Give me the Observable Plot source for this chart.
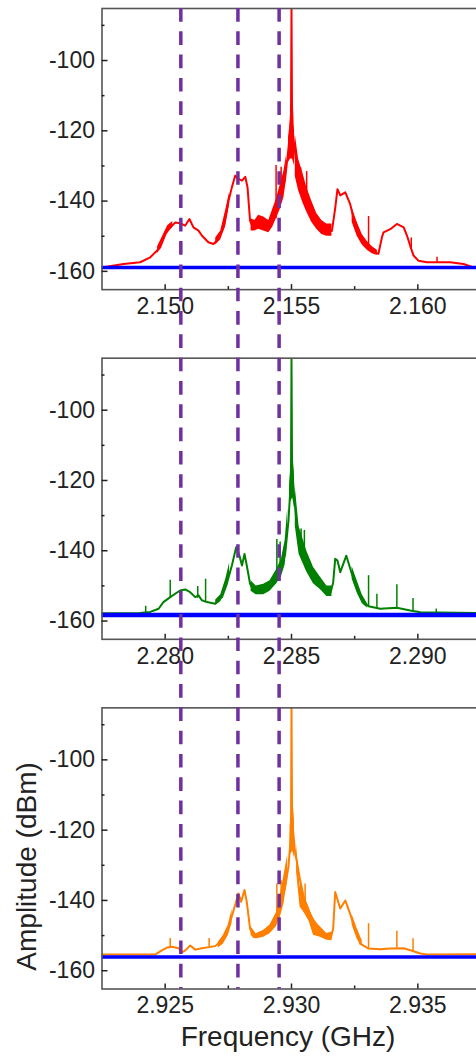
<!DOCTYPE html>
<html>
<head>
<meta charset="utf-8">
<script src="https://cdn.jsdelivr.net/npm/d3@7"></script>
<script src="https://cdn.jsdelivr.net/npm/@observablehq/plot@0.6"></script>
<style>
  html, body { margin: 0; padding: 0; background: #fff; overflow: hidden; }
  #chart { width: 476px; height: 1057px; overflow: hidden; }
</style>
</head>
<body>
<div id="chart"></div>
<script>
// Three spectra, each centred on its pump carrier (GHz).
const panels = ["p2155", "p2285", "p2930"];
const carriersGHz = [2.155, 2.285, 2.930];
const traceColors = ["#ff0000", "#008000", "#ff7f00"];
const noiseColor = "#0000ff";
const noiseWidths = [3.5, 4.5, 3.5];
const guideColor = "#7030a0";

// Axis ticks and labels
const yMajorTicks = [-100, -120, -140, -160];
const yTickLabels = ["-100", "-120", "-140", "-160"];
const yMinorTicks = [-90, -110, -130, -150];
const xTickLabels = [
  ["2.150", "2.155", "2.160"],
  ["2.280", "2.285", "2.290"],
  ["2.925", "2.930", "2.935"]
];
const xMinorOffsetsMHz = [-2.5, 2.5];
const xSpanMHz = [-7.5, 7.5];
const yDomain = [-165.2, -85.2];

// Dashed guide lines: detuning from the carrier (MHz), shared by all panels
const guideOffsetsMHz = [-4.38, -2.12, -0.49];

// Noise floor (blue) level of each panel, dBm
const noiseFloor = [-158.9, -158.3, -156.1];

// Red spectrum around 2.155 GHz: [GHz, dBm]
const redTrace = [
  [2.14750,-158.9],[2.14835,-157.9],[2.14901,-157.4],[2.14941,-156.0],[2.14980,-153.2],
  [2.15000,-149.4],[2.15020,-147.5],[2.15040,-146.1],[2.15059,-146.3],[2.15079,-147.0],
  [2.15096,-145.1],[2.15112,-147.5],[2.15132,-148.4],[2.15145,-149.8],[2.15171,-151.7],
  [2.15191,-152.2],[2.15211,-150.8],[2.15231,-147.5],[2.15251,-139.9],[2.15264,-136.1],
  [2.15277,-132.8],[2.15290,-133.7],[2.15304,-134.2],[2.15317,-133.1],[2.15326,-136.1],
  [2.15336,-145.6],[2.15350,-147.9],[2.15369,-144.6],[2.15389,-146.3],[2.15409,-147.3],
  [2.15422,-146.1],[2.15435,-143.7],[2.15449,-140.5],[2.15462,-137.5],[2.15475,-133.5],
  [2.15485,-127.0],[2.15494,-121.0],[2.15498,-115.0],[2.15500,-85.2],[2.15502,-113.0],
  [2.15506,-121.0],[2.15512,-125.0],[2.15520,-129.5],[2.15528,-132.3],[2.15541,-136.5],
  [2.15561,-140.5],[2.15587,-144.5],[2.15614,-147.0],[2.15640,-148.5],[2.15660,-148.5],
  [2.15673,-142.0],[2.15682,-136.6],[2.15693,-138.4],[2.15713,-137.5],[2.15732,-140.8],
  [2.15745,-144.6],[2.15765,-148.4],[2.15785,-151.7],[2.15812,-154.1],[2.15844,-155.0],
  [2.15858,-150.3],[2.15864,-148.9],[2.15891,-148.0],[2.15917,-146.5],[2.15944,-147.5],
  [2.15957,-149.8],[2.15970,-152.8],[2.15983,-155.5],[2.16003,-157.0],[2.16036,-157.4],
  [2.16128,-157.4],[2.16181,-157.9],[2.16221,-158.9],[2.16250,-159.0]
];
// Noisy stretches of the red trace: segments of [GHz, low dBm, high dBm]
const redBands = [
  [[2.14970,-155,-153],[2.14990,-152.5,-150],[2.15010,-149,-147],[2.15030,-147.5,-145.8]],
  [[2.15200,-152.5,-150.5],[2.15220,-151,-148.5],[2.15240,-147,-142.5],[2.15255,-141,-137.5]],
  [[2.15340,-148.5,-145],[2.15355,-148.5,-145.5],[2.15370,-148,-144],[2.15390,-148.5,-144.5],
   [2.15410,-149,-145.5],[2.15425,-147.5,-142.5],[2.15440,-145,-139.5],[2.15455,-142.5,-135.5],
   [2.15470,-139,-131.5],[2.15480,-134,-127]],
  [[2.15488,-129,-122],[2.15496,-128,-117],[2.15504,-128,-117],[2.15512,-130,-120]],
  [[2.15515,-133,-121],[2.15528,-137,-128],[2.15545,-140.5,-132],[2.15560,-143,-136],
   [2.15580,-146,-140],[2.15600,-148,-143.5],[2.15620,-149.5,-145.5],[2.15640,-150,-146.5],
   [2.15660,-150,-146.5]],
  [[2.15740,-146,-142],[2.15760,-150,-146],[2.15780,-152.5,-149.5],[2.15800,-154,-151.5],
   [2.15820,-155,-153],[2.15840,-155.5,-154]]
];
// Narrow spurs: [GHz, base dBm, top dBm]
const redSpikes = [
  [2.15439,-145,-129.9],[2.15459,-140,-130.4],[2.15536,-137,-130.6],[2.15560,-140,-131.6],
  [2.15805,-153,-144.4],[2.15974,-153.5,-150.5],[2.16076,-157.4,-156.0]
];

// Green spectrum around 2.285 GHz
const greenTrace = [
  [2.27750,-157.8],[2.27900,-157.7],[2.27941,-157.4],[2.27974,-156.5],[2.27993,-154.6],
  [2.28020,-153.2],[2.28059,-151.3],[2.28079,-151.0],[2.28099,-151.8],[2.28119,-153.2],
  [2.28132,-152.7],[2.28145,-154.1],[2.28165,-154.6],[2.28198,-155.1],[2.28225,-153.2],
  [2.28244,-149.4],[2.28264,-144.2],[2.28281,-139.0],[2.28294,-141.4],[2.28304,-144.2],
  [2.28314,-140.9],[2.28323,-144.2],[2.28336,-149.4],[2.28350,-151.3],[2.28376,-151.3],
  [2.28403,-150.8],[2.28429,-148.9],[2.28455,-146.1],[2.28475,-140.9],[2.28488,-131.4],
  [2.28495,-123.0],[2.28498,-118.0],[2.28500,-85.2],[2.28502,-114.0],[2.28506,-120.0],
  [2.28512,-125.8],[2.28520,-132.0],[2.28530,-137.5],[2.28545,-141.0],[2.28560,-143.5],
  [2.28587,-147.0],[2.28614,-149.5],[2.28640,-151.3],[2.28655,-151.8],[2.28665,-149.0],
  [2.28673,-142.3],[2.28682,-142.8],[2.28693,-146.1],[2.28717,-141.4],[2.28739,-146.6],
  [2.28759,-150.8],[2.28779,-154.1],[2.28805,-155.8],[2.28851,-156.5],[2.28917,-156.2],
  [2.28970,-157.0],[2.29010,-157.5],[2.29250,-157.7]
];
const greenBands = [
  [[2.28200,-155.5,-154],[2.28220,-154.5,-152.5],[2.28240,-151,-148],[2.28255,-147.5,-143.5]],
  [[2.28340,-151.5,-148.5],[2.28360,-152.5,-150],[2.28390,-152.5,-149.5],[2.28415,-151.5,-148.5],
   [2.28440,-149.5,-145.5],[2.28460,-147.5,-142.5],[2.28475,-144,-137],[2.28485,-136,-128]],
  [[2.28492,-128,-122],[2.28497,-126,-116],[2.28505,-125,-113],[2.28512,-128,-119]],
  [[2.28515,-133,-122],[2.28530,-141,-133],[2.28545,-143.5,-136.5],[2.28560,-146,-140],
   [2.28587,-149.4,-144.7],[2.28614,-151,-147.5],[2.28640,-153,-150],[2.28660,-153,-150]],
  [[2.28740,-148,-144.5],[2.28760,-152,-148.5],[2.28780,-155,-152.5],[2.28800,-156.3,-155]]
];
const greenSpikes = [
  [2.27923,-157.7,-155.8],[2.28020,-153.2,-148.4],[2.28129,-153.5,-150.2],[2.28160,-154.5,-148.1],
  [2.28442,-147.5,-136.8],[2.28455,-146,-137.5],[2.28538,-139,-133.8],[2.28551,-141,-134.2],
  [2.28805,-155.8,-147.1],[2.28838,-156.2,-152.4],[2.28917,-156.2,-149.7],[2.28981,-157.2,-153.6],
  [2.29073,-157.6,-156.6]
];

// Orange spectrum around 2.930 GHz
const orangeTrace = [
  [2.92250,-155.4],[2.92460,-155.4],[2.92487,-154.2],[2.92507,-153.4],[2.92527,-153.2],
  [2.92553,-153.6],[2.92566,-154.8],[2.92580,-154.2],[2.92599,-152.8],[2.92619,-154.0],
  [2.92645,-153.6],[2.92698,-153.0],[2.92724,-151.3],[2.92744,-148.9],[2.92763,-144.7],
  [2.92777,-141.3],[2.92790,-138.0],[2.92801,-140.4],[2.92814,-137.0],[2.92823,-140.4],
  [2.92836,-148.0],[2.92850,-150.4],[2.92876,-150.0],[2.92903,-148.9],[2.92929,-146.5],
  [2.92955,-141.9],[2.92975,-136.1],[2.92988,-130.4],[2.92995,-124.0],[2.92998,-120.0],
  [2.93000,-85.2],[2.93002,-113.0],[2.93006,-120.0],[2.93015,-127.0],[2.93020,-128.5],
  [2.93034,-134.2],[2.93050,-139.5],[2.93060,-141.9],[2.93087,-145.6],[2.93114,-148.5],
  [2.93140,-150.4],[2.93155,-150.8],[2.93165,-148.0],[2.93173,-137.6],[2.93193,-142.3],
  [2.93213,-140.0],[2.93232,-143.8],[2.93252,-148.5],[2.93272,-152.3],[2.93305,-153.7],
  [2.93351,-153.9],[2.93391,-153.7],[2.93444,-153.6],[2.93477,-154.3],[2.93510,-155.1],
  [2.93536,-155.4],[2.93750,-155.3]
];
const orangeBands = [
  [[2.92710,-153.5,-152],[2.92730,-152.5,-150],[2.92750,-150,-147],[2.92765,-146.5,-142.5]],
  [[2.92840,-150,-147.5],[2.92860,-151,-149.5],[2.92890,-150.5,-148.5],[2.92915,-149.5,-147],
   [2.92940,-147.5,-143.5],[2.92955,-145,-138.5],[2.92970,-141,-133],[2.92985,-134,-127]],
  [[2.92994,-127,-119],[2.93005,-126,-111],[2.93012,-128,-118]],
  [[2.93020,-132,-124],[2.93034,-141.9,-136.1],[2.93050,-143.5,-138.5],[2.93070,-146,-142],
   [2.93087,-149.9,-145.6],[2.93114,-150.5,-147.5],[2.93140,-151.3,-149.4],[2.93160,-151.5,-149]],
  [[2.93240,-147,-144],[2.93260,-151,-148],[2.93280,-153,-151.5]]
];
const orangeSpikes = [
  [2.92520,-153.4,-150.8],[2.92674,-153.2,-150.8],[2.92942,-143.5,-135.3],[2.92959,-141,-134.4],
  [2.93036,-138,-135.3],[2.93054,-141,-135.3],[2.93305,-153.7,-146.6],[2.93417,-153.6,-148.8],
  [2.93481,-154.3,-150.9]
];

const traces = [redTrace, greenTrace, orangeTrace];
const bands = [redBands, greenBands, orangeBands];
const spikes = [redSpikes, greenSpikes, orangeSpikes];

// Page layout of the stacked panels
const width = 500, height = 1057;
const marginTop = 8, marginBottom = 68.5, marginLeft = 101.5, marginRight = 19.5;
const panelPadding = 0.196;
const panelStep = (height - marginTop - marginBottom) / (panels.length - panelPadding);
const panelGap = panelStep * panelPadding;

// Each panel is plotted as detuning (MHz) from its carrier so the panels share one x scale.
const mhz = (f, i) => (f - carriersGHz[i]) * 1000;

const marks = [];

panels.forEach((p, i) => {
  const color = traceColors[i];
  const bandRows = bands[i].flatMap((seg, s) =>
    seg.map(([f, lo, hi]) => ({panel: p, seg: s, x: mhz(f, i), lo, hi})));
  const lineRows = traces[i].map(([f, a]) => ({panel: p, x: mhz(f, i), y: a}));
  const spikeRows = spikes[i].map(([f, b, t]) => ({panel: p, x: mhz(f, i), b, t}));
  marks.push(
    Plot.areaY(bandRows, {x: "x", y1: "lo", y2: "hi", z: "seg", fy: "panel", fill: color, clip: true}),
    Plot.line(lineRows, {x: "x", y: "y", fy: "panel", stroke: color, strokeWidth: 2, clip: true}),
    Plot.ruleX(spikeRows, {x: "x", y1: "b", y2: "t", fy: "panel", stroke: color, strokeWidth: 1.5})
  );
});

// Noise floor reference traces
marks.push(Plot.ruleY(panels.map((p, i) => ({panel: p, level: noiseFloor[i], w: noiseWidths[i]})),
  {y: "level", fy: "panel", stroke: noiseColor, strokeWidth: "w"}));

// Panel frames and inward ticks
marks.push(
  Plot.frame({stroke: "#555", strokeWidth: 1.6}),
  Plot.axisY({ticks: yMajorTicks, anchor: "left", tickSize: -6, tickPadding: 13,
    tickFormat: (d) => yTickLabels[yMajorTicks.indexOf(d)], fontSize: 23, color: "#222",
    strokeWidth: 1.5, label: null, facetAnchor: null}),
  Plot.axisY({ticks: yMinorTicks, anchor: "left", tickSize: -3, tickFormat: () => "",
    color: "#222", strokeWidth: 1.5, label: null, facetAnchor: null}),
  Plot.axisX({ticks: xTickLabels[0].map((t) => mhz(+t, 0)), anchor: "bottom", tickSize: -5,
    tickFormat: () => "", color: "#222", strokeWidth: 1.5, label: null, facetAnchor: null}),
  Plot.axisX({ticks: xMinorOffsetsMHz, anchor: "bottom", tickSize: -3,
    tickFormat: () => "", color: "#222", strokeWidth: 1.5, label: null, facetAnchor: null})
);

// Frequency tick labels, different in each panel
const xLabelRows = panels.flatMap((p, i) =>
  xTickLabels[i].map((t) => ({panel: p, x: mhz(+t, i), label: t})));
marks.push(Plot.text(xLabelRows, {x: "x", text: "label", fy: "panel", frameAnchor: "bottom",
  dy: 8, lineAnchor: "top", fontSize: 23, fill: "#222"}));

// Axis titles, placed with the bottom panel
marks.push(
  Plot.text([{panel: panels[2], t: "Frequency (GHz)"}], {text: "t", fy: "panel",
    frameAnchor: "bottom", textAnchor: "middle", dx: -3.5, dy: 48.5, lineAnchor: "middle",
    fontSize: 28, fill: "#222"}),
  Plot.text([{panel: panels[2], t: "Amplitude (dBm)"}], {text: "t", fy: "panel",
    frameAnchor: "left", textAnchor: "middle", rotate: -90, dx: -74.5, dy: 18,
    lineAnchor: "middle", fontSize: 28, fill: "#222"})
);

// Dashed guides running through all three panels (the upper two reach across the gap below them)
const dashPeriod = panelStep / 15;
const guideStyle = {x: "x", fy: "panel", stroke: guideColor, strokeWidth: 3.5,
  strokeDasharray: `${(dashPeriod * 0.585).toFixed(2)},${(dashPeriod * 0.415).toFixed(2)}`};
const guideRows = (ps) => ps.flatMap((p) => guideOffsetsMHz.map((x) => ({panel: p, x})));
marks.push(
  Plot.ruleX(guideRows(panels.slice(0, 2)), {...guideStyle, insetBottom: -panelGap}),
  Plot.ruleX(guideRows(panels.slice(2)), guideStyle)
);

const chart = Plot.plot({
  width,
  height,
  marginLeft,
  marginRight,
  marginTop,
  marginBottom,
  style: {fontFamily: "'Liberation Sans', Arial, sans-serif", maxWidth: "none", background: "#fff", overflow: "visible"},
  x: {domain: xSpanMHz, axis: null},
  y: {domain: yDomain, axis: null},
  fy: {domain: panels, axis: null, paddingInner: panelPadding, paddingOuter: 0, round: false},
  marks
});
document.getElementById("chart").appendChild(chart);
</script>
</body>
</html>
